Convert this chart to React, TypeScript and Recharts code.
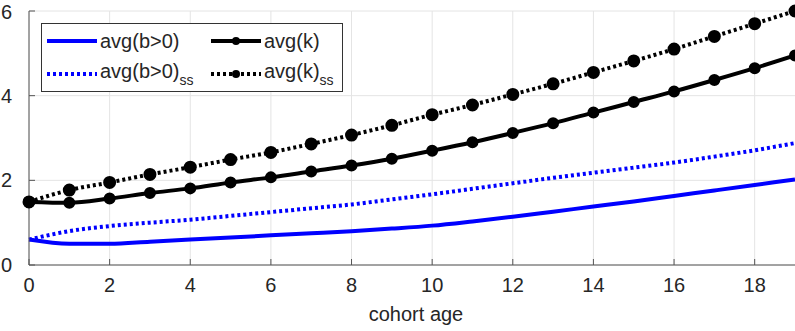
import React from 'react';
import { LineChart, Line, XAxis, YAxis, CartesianGrid } from 'recharts';

// cohort age 0..19
const ages = [0, 1, 2, 3, 4, 5, 6, 7, 8, 9, 10, 11, 12, 13, 14, 15, 16, 17, 18, 19];
const avgB = [0.6, 0.5, 0.5, 0.55, 0.6, 0.65, 0.7, 0.75, 0.8, 0.86, 0.93, 1.03, 1.14, 1.26, 1.38, 1.5, 1.63, 1.76, 1.89, 2.02];
const avgBss = [0.6, 0.8, 0.92, 1.0, 1.07, 1.16, 1.25, 1.34, 1.43, 1.55, 1.67, 1.8, 1.93, 2.06, 2.18, 2.3, 2.42, 2.56, 2.71, 2.88];
const avgK = [1.49, 1.47, 1.57, 1.7, 1.81, 1.95, 2.07, 2.21, 2.35, 2.51, 2.7, 2.9, 3.12, 3.35, 3.6, 3.85, 4.1, 4.37, 4.65, 4.95];
const avgKss = [1.49, 1.77, 1.95, 2.14, 2.31, 2.49, 2.66, 2.86, 3.07, 3.3, 3.55, 3.78, 4.03, 4.28, 4.55, 4.82, 5.1, 5.4, 5.7, 6.0];

const xTicks = [0, 2, 4, 6, 8, 10, 12, 14, 16, 18];
const yTicks = [0, 2, 4, 6];

const data = ages.map((a, i) => ({
  age: a,
  b: avgB[i],
  bss: avgBss[i],
  k: avgK[i],
  kss: avgKss[i],
}));

const font = '"Liberation Sans", Arial, sans-serif';
const textColor = '#262626';
const axisColor = '#555';
const tickStyle = { fontSize: 20, fill: textColor, fontFamily: font };

function Sample({ color, dash, marker }: { color: string; dash?: string; marker?: boolean }) {
  return (
    <svg width={50} height={14} style={{ display: 'block' }}>
      <line x1={0} y1={7} x2={50} y2={7} stroke={color} strokeWidth={4} strokeDasharray={dash} />
      {marker && <circle cx={25} cy={7} r={4} fill={color} />}
    </svg>
  );
}

function LegendBox() {
  const item = (sample: React.ReactNode, label: string, sub?: string) => (
    <div style={{ display: 'flex', alignItems: 'center', height: 32 }}>
      {sample}
      <span style={{ marginLeft: 3, fontSize: 20, color: textColor, fontFamily: font, whiteSpace: 'nowrap' }}>
        {label}
        {sub && <sub style={{ fontSize: 14, verticalAlign: -7 }}>{sub}</sub>}
      </span>
    </div>
  );
  return (
    <div
      style={{
        position: 'absolute',
        left: 41,
        top: 23,
        width: 302,
        height: 69,
        border: '1px solid #333',
        background: '#fff',
        padding: '1px 0 0 5px',
        boxSizing: 'border-box',
        display: 'grid',
        gridTemplateColumns: '164px 130px',
      }}
    >
      {item(<Sample color="#0000ff" />, 'avg(b>0)')}
      {item(<Sample color="#000" marker />, 'avg(k)')}
      {item(<Sample color="#0000ff" dash="3 3" />, 'avg(b>0)', 'ss')}
      {item(<Sample color="#000" dash="3 3" marker />, 'avg(k)', 'ss')}
    </div>
  );
}

export default function App() {
  return (
    <div style={{ position: 'absolute', left: 0, top: 0, width: 795, height: 331, background: '#fff' }}>
      <LineChart width={795} height={331} data={data} margin={{ top: 11, right: 0, bottom: 0, left: 0 }}>
        <CartesianGrid stroke="#e4e4e4" strokeWidth={1} horizontalValues={yTicks} verticalValues={xTicks} />
        <XAxis
          dataKey="age"
          type="number"
          domain={[0, 19]}
          ticks={xTicks}
          height={66}
          tick={tickStyle}
          tickSize={-6}
          tickMargin={19}
          stroke={axisColor}
          tickLine={{ stroke: axisColor }}
          label={{ value: 'cohort age', position: 'insideBottom', offset: 10, dx: 4, style: { fontSize: 20, fill: textColor, fontFamily: font } }}
        />
        <XAxis
          xAxisId="top"
          orientation="top"
          dataKey="age"
          type="number"
          domain={[0, 19]}
          ticks={xTicks}
          height={0}
          tickSize={-6}
          tickFormatter={() => ''}
          stroke={axisColor}
        />
        <YAxis
          type="number"
          domain={[0, 6]}
          ticks={yTicks}
          width={29}
          tick={tickStyle}
          tickSize={-6}
          tickMargin={23}
          stroke={axisColor}
        />
        <YAxis
          yAxisId="right"
          orientation="right"
          type="number"
          domain={[0, 6]}
          ticks={yTicks}
          width={0}
          tickSize={-6}
          tickFormatter={() => ''}
          stroke={axisColor}
        />
        <Line dataKey="b" type="monotone" stroke="#0000ff" strokeWidth={4} dot={false} isAnimationActive={false} />
        <Line dataKey="bss" type="monotone" stroke="#0000ff" strokeWidth={4} strokeDasharray="3 3" dot={false} isAnimationActive={false} />
        <Line dataKey="k" type="monotone" stroke="#000" strokeWidth={4} dot={{ r: 4, fill: '#000', stroke: '#000' }} isAnimationActive={false} />
        <Line dataKey="kss" type="monotone" stroke="#000" strokeWidth={4} strokeDasharray="3 3" dot={{ r: 4.5, fill: '#000', stroke: '#000', strokeDasharray: '' }} isAnimationActive={false} />
      </LineChart>
      <LegendBox />
    </div>
  );
}
